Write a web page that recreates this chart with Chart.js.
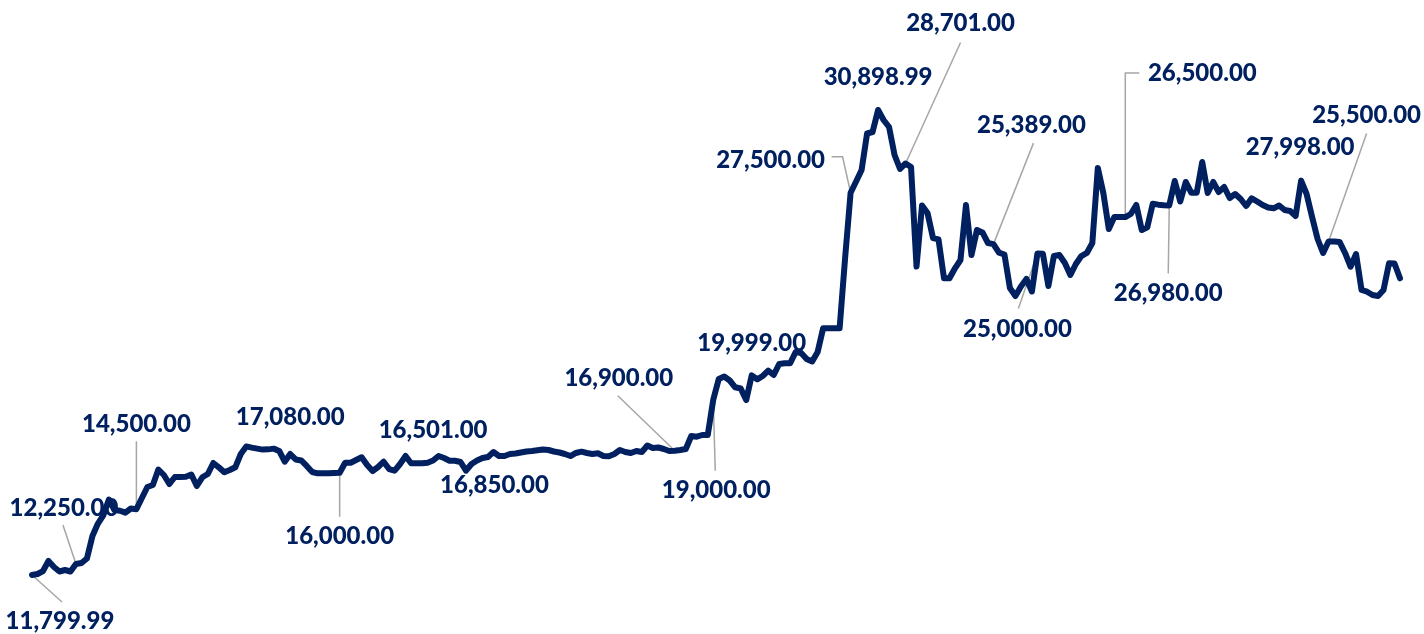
<!DOCTYPE html>
<html>
<head>
<meta charset="utf-8">
<script src="https://cdn.jsdelivr.net/npm/chart.js@4/dist/chart.umd.min.js"></script>
<style>
  html, body { margin: 0; padding: 0; background: #ffffff; }
  #wrap { position: relative; width: 1424px; height: 634px; }
</style>
</head>
<body>
<div id="wrap"><canvas id="c"></canvas></div>
<script>
// ---- data ----
const categories = Array.from({length: 250}, (_, i) => 'P' + (i + 1));

const prices = [
  11799.99, 11841, 11964, 12375, 12129, 11944, 12005, 11944, 12250, 12293,
  12478, 13402, 13915, 14264, 14901, 14470, 14441, 14359, 14531, 14500,
  14962, 15414, 15496, 16133, 15907, 15537, 15825, 15825, 15837, 15928,
  15455, 15813, 15948, 16400, 16223, 16018, 16112, 16223, 16769, 17080,
  17030, 16990, 16950, 16960, 16990, 16893, 16453, 16769, 16544, 16503,
  16277, 16030, 15977, 15977, 15977, 15990, 16000, 16412, 16412, 16523,
  16634, 16318, 16071, 16236, 16453, 16153, 16084, 16359, 16687, 16388,
  16388, 16388, 16412, 16501, 16687, 16605, 16494, 16494, 16441, 16084,
  16359, 16503, 16605, 16646, 16850, 16687, 16687, 16769, 16790, 16831,
  16872, 16893, 16921, 16954, 16934, 16872, 16831, 16769, 16687, 16811,
  16864, 16811, 16769, 16798, 16687, 16675, 16769, 16934, 16852, 16811,
  16893, 16852, 17119, 17016, 17036, 16975, 16893, 16900, 16934, 16975,
  17509, 17480, 17550, 17550, 19000, 19850, 19950, 19788, 19509, 19460,
  18987, 19999, 19837, 19973, 20191, 20014, 20466, 20494, 20494, 20959,
  20918, 20671, 20568, 20959, 21932, 21932, 21932, 21932, 24819, 27500,
  27961, 28433, 29933, 29994, 30898.99, 30487, 30199, 29049, 28474, 28701,
  28557, 24470, 26975, 26667, 25641, 25587, 23985, 23985, 24396, 24737,
  26996, 24942, 25969, 25867, 25435, 25389, 25037, 24963, 23587, 23259,
  23649, 23957, 23443, 25000, 24990, 23669, 24901, 24942, 24614, 24121,
  24573, 24901, 25025, 25435, 28515, 27489, 26010, 26500, 26500, 26500,
  26626, 26996, 25969, 26080, 27050, 27010, 26990, 26980, 27982, 27140,
  27941, 27501, 27501, 28762, 27489, 27941, 27530, 27735, 27283, 27448,
  27242, 26955, 27271, 27140, 26996, 26893, 26860, 26975, 26791, 26749,
  26544, 27998, 27448, 26503, 25600, 25025, 25500, 25500, 25480, 25025,
  24462, 24983, 23505, 23435, 23300, 23259, 23505, 24602, 24594, 23985
];

// indices of the points that carry a value label
const labelIndices = [0, 8, 19, 39, 56, 73, 84, 117, 124, 131, 149, 154, 159, 175, 183, 199, 207, 231, 236];

// ---- label layout (offsets from the point, in px) ----
const labelLayout = {
  0:   { dx: 28,  dy: 46,   leader: [[30, 27]] },
  8:   { dx: -12, dy: -56,  leader: [[-13, -39]] },
  19:  { dx: 0,   dy: -85,  leader: [[0, -68]] },
  39:  { dx: 44,  dy: -29 },
  56:  { dx: 0,   dy: 64,   leader: [[0, 44]] },
  73:  { dx: 0,   dy: -30 },
  84:  { dx: 1,   dy: 33 },
  117: { dx: -56, dy: -73,  leader: [[-57, -55]] },
  124: { dx: 3,   dy: 91,   leader: [[2, 71]] },
  131: { dx: 0,   dy: -32 },
  149: { dx: -80, dy: -32,  leader: [[-8, -36], [-19, -36]] },
  154: { dx: 0,   dy: -33 },
  159: { dx: 55,  dy: -140, leader: [[55, -121]] },
  175: { dx: 38,  dy: -119, leader: [[40, -101]] },
  183: { dx: -20, dy: 76,   leader: [[-19, 55]] },
  199: { dx: 77,  dy: -144, leader: [[0, -144], [14, -144]] },
  207: { dx: -1,  dy: 88,   leader: [[-1, 68]] },
  231: { dx: -1,  dy: -33 },
  236: { dx: 38,  dy: -126, leader: [[38, -108]] }
};

const NAVY = '#002060';
const fmt = v => v.toLocaleString('en-US', { minimumFractionDigits: 2, maximumFractionDigits: 2 });

const labelPlugin = {
  id: 'valueLabels',
  beforeDatasetsDraw(chart) {
    const ctx = chart.ctx;
    const meta = chart.getDatasetMeta(0);
    ctx.save();
    ctx.strokeStyle = '#a6a6a6';
    ctx.lineWidth = 1.5;
    labelIndices.forEach(i => {
      const cfg = labelLayout[i];
      if (!cfg || !cfg.leader) return;
      const p = meta.data[i];
      ctx.beginPath();
      ctx.moveTo(p.x, p.y);
      cfg.leader.forEach(([lx, ly]) => ctx.lineTo(p.x + lx, p.y + ly));
      ctx.stroke();
    });
    ctx.restore();
  },
  afterDatasetsDraw(chart) {
    const ctx = chart.ctx;
    const meta = chart.getDatasetMeta(0);
    ctx.save();
    ctx.fillStyle = NAVY;
    ctx.font = '900 24px Lato';
    ctx.textAlign = 'center';
    ctx.textBaseline = 'middle';
    labelIndices.forEach(i => {
      const cfg = labelLayout[i];
      const p = meta.data[i];
      ctx.fillText(fmt(prices[i]), p.x + cfg.dx, p.y + cfg.dy);
    });
    ctx.restore();
  }
};

new Chart(document.getElementById('c'), {
  type: 'line',
  data: {
    labels: categories,
    datasets: [{
      data: prices,
      borderColor: NAVY,
      borderWidth: 6,
      borderJoinStyle: 'round',
      borderCapStyle: 'round',
      pointRadius: 0,
      tension: 0,
      fill: false
    }]
  },
  options: {
    responsive: true,
    maintainAspectRatio: false,
    animation: false,
    layout: { padding: { left: 32, right: 24, top: 0, bottom: 0 } },
    plugins: { legend: { display: false }, tooltip: { enabled: false } },
    scales: {
      x: { display: false, offset: false },
      y: { display: false, min: 9377, max: 35415 }
    }
  },
  plugins: [labelPlugin]
});
</script>
</body>
</html>
